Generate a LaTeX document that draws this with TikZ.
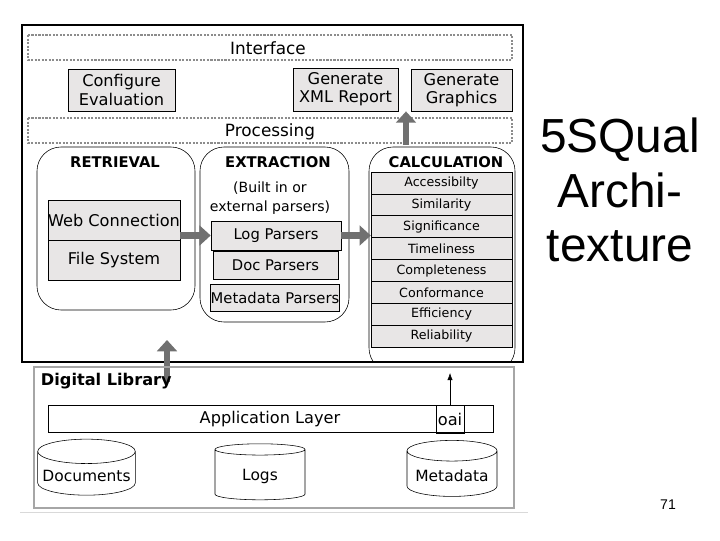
\documentclass[tikz,border=0pt]{standalone}
\usepackage{fontspec}
\setmainfont{DejaVu Sans}
\newfontfamily\slidefont{Liberation Sans}
\usetikzlibrary{shapes.geometric,arrows.meta}
\definecolor{boxgray}{HTML}{E8E6E6}
\definecolor{arrgray}{HTML}{707070}
\tikzset{
  greybox/.style={draw,fill=boxgray,inner sep=0pt,align=center,font=\fontsize{11.5}{13}\selectfont},
  band/.style={draw=black!45,densely dotted,line width=1.5pt},
  stage/.style={draw,rounded corners=0.6cm},
  title/.style={font=\fontsize{10.5}{12}\selectfont\bfseries},
  calc/.style={draw,fill=boxgray,minimum width=3.52cm,minimum height=0.55cm,inner sep=0pt,font=\fontsize{9}{10}\selectfont},
  bigarr/.style={draw=arrgray,line width=4.5pt,-{Triangle[length=8pt,width=14pt]}},
  db/.style={draw,cylinder,shape border rotate=90,aspect=0.25,minimum width=2.25cm,minimum height=1.4cm,font=\fontsize{11}{12}\selectfont}
}
\begin{document}
\begin{tikzpicture}[x=0.025cm,y=-0.025cm]
  \useasboundingbox (0,0) rectangle (720,540);
  % Outer box
  \draw[line width=2pt] (22,25) rectangle (523,362);
  % Interface and processing bands
  \draw[band] (28,35) rectangle (512,60);
  \node[font=\fontsize{12}{13}\selectfont] (iface) at (268,48) {Interface};
  \draw[band] (28,118) rectangle (512,143);
  \node[font=\fontsize{12}{13}\selectfont] (proc) at (270,132) {Processing};
  % Interface boxes
  \node[greybox,minimum width=2.68cm,minimum height=1.05cm] (conf) at (121.5,90) {Configure\\Evaluation};
  \node[greybox,minimum width=2.63cm,minimum height=1.08cm] (xml) at (345.5,89.5) {Generate\\XML Report};
  \node[greybox,minimum width=2.53cm,minimum height=1.05cm] (graph) at (461.5,90) {Generate\\Graphics};
  % Retrieval
  \draw[stage] (37,147) rectangle (195,310);
  \node[title] (ret) at (115,162) {RETRIEVAL};
  \node[greybox,minimum width=3.3cm,minimum height=1cm] (web) at (114,220) {Web Connection};
  \node[greybox,minimum width=3.3cm,minimum height=1cm] (file) at (114,260) {File System};
  % Extraction
  \draw[stage] (200,147) rectangle (349,322);
  \node[title] (ext) at (278,162) {EXTRACTION};
  \node[align=center,font=\fontsize{10}{14}\selectfont] (built) at (270,198) {(Built in or\\external parsers)};
  \node[greybox,minimum width=3.25cm,minimum height=0.72cm,font=\fontsize{10.5}{12}\selectfont] (logp) at (276,235.5) {Log Parsers};
  \node[greybox,minimum width=3.12cm,minimum height=0.7cm,font=\fontsize{10.5}{12}\selectfont] (docp) at (275.5,265) {Doc Parsers};
  \node[greybox,minimum width=3.2cm,minimum height=0.68cm,font=\fontsize{10.5}{12}\selectfont] (metap) at (275,297.5) {Metadata Parsers};
  % Calculation
  \draw[stage] (369,147) rectangle (515,372);
  \fill[white] (365,363) rectangle (520,375);
  \draw[line width=2pt] (365,362) -- (523,362);
  \node[title] (calc) at (446,162) {CALCULATION};
  \foreach \t [count=\i] in {Accessibilty,Similarity,Significance,Timeliness,Completeness,Conformance,Efficiency,Reliability}
    \node[calc] (c\i) at (441.5,{172+(\i-0.5)*21.9}) {\t};
  % Thick arrows
  \draw[bigarr] (web.east|-logp) -- (logp.west);
  \draw[bigarr] (logp.east) -- (c3.west|-logp);
  \coordinate (dlup) at (167,382);
  \draw[bigarr] (dlup) -- (167,340);
  \coordinate (calcup) at (406,145);
  \draw[bigarr] (calcup) -- (calcup|-xml.south);
  % Digital library
  \draw[black!35,line width=1.5pt] (34,367) rectangle (514,508);
  \node[font=\fontsize{11.5}{12}\selectfont\bfseries,anchor=west] (dl) at (36,381) {Digital Library};
  \draw (48,405) rectangle (493,432);
  \node[font=\fontsize{11.5}{12}\selectfont] (app) at (270,419) {Application Layer};
  \node[draw,minimum width=0.7cm,minimum height=0.7cm,inner sep=0pt,font=\fontsize{11.5}{12}\selectfont] (oai) at (450,419) {oai};
  \draw[-{Latex[length=5pt]}] (oai.north) -- (450,373);
  \node[db] (docs) at (86.5,476) {Documents};
  \node[db] (logs) at (260,476) {Logs};
  \node[db] (meta) at (452,476) {Metadata};
  \draw[black!15] (20,512) -- (528,512);
  % Slide text
  \node[font=\slidefont\fontsize{34}{39}\selectfont,align=center] (slide) at (620,190) {5SQual\\Archi-\\texture};
  \node[font=\slidefont\fontsize{10}{12}\selectfont] (pg) at (668,505) {71};
\end{tikzpicture}
\end{document}
